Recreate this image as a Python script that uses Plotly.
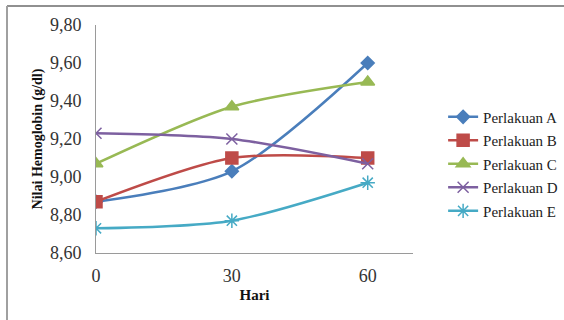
import plotly.graph_objects as go

# Hari pengamatan
hari = [0, 30, 60]

# Nilai hemoglobin (g/dl) per perlakuan
perlakuan_a = [8.87, 9.03, 9.60]
perlakuan_b = [8.87, 9.10, 9.10]
perlakuan_c = [9.07, 9.37, 9.50]
perlakuan_d = [9.23, 9.20, 9.07]
perlakuan_e = [8.73, 8.77, 8.97]

nama_seri = ["Perlakuan A", "Perlakuan B", "Perlakuan C", "Perlakuan D", "Perlakuan E"]
nilai_seri = [perlakuan_a, perlakuan_b, perlakuan_c, perlakuan_d, perlakuan_e]

y_ticks = [8.60, 8.80, 9.00, 9.20, 9.40, 9.60, 9.80]
x_ticks = [0, 30, 60]

warna = ["#4a7ebb", "#be4b48", "#98b954", "#7d60a0", "#46aac5"]
simbol = ["diamond", "square", "triangle-up", "x-thin-open", "asterisk-open"]
ukuran = [10, 12, 12, 11, 12]

fig = go.Figure()
for i, (nama, nilai) in enumerate(zip(nama_seri, nilai_seri)):
    fig.add_trace(go.Scatter(
        x=hari, y=nilai, name=nama, mode="lines+markers",
        line=dict(color=warna[i], width=2.5, shape="spline", smoothing=0.8),
        marker=dict(symbol=simbol[i], size=ukuran[i], color=warna[i],
                    line=dict(color=warna[i], width=1.5)),
        legendgroup=nama,
    ))

serif = "Liberation Serif"

fig.update_layout(
    width=564, height=320,
    margin=dict(l=96, r=151, t=25, b=67, autoexpand=False),
    paper_bgcolor="white", plot_bgcolor="white",
    separators=",.",
    showlegend=True,
    font=dict(family=serif, color="#222222"),
    legend=dict(
        x=1.095, xanchor="left", y=0.39, yanchor="middle",
        font=dict(family=serif, size=15, color="#222222"),
        tracegroupgap=1, bgcolor="rgba(0,0,0,0)",
    ),
    xaxis=dict(
        range=[0, 70], tickvals=x_ticks, ticktext=[str(v) for v in x_ticks],
        showgrid=False, zeroline=False, showline=True, linecolor="#9a9a9a",
        linewidth=1, ticks="", ticklabelstandoff=6,
        tickfont=dict(family=serif, size=18, color="#333333"),
        title=dict(text="<b>Hari</b>", font=dict(family=serif, size=15, color="#111111"),
                   standoff=4),
    ),
    yaxis=dict(
        range=[8.60, 9.80], tickvals=y_ticks, tickformat=".2f",
        showgrid=False, zeroline=False, showline=True, linecolor="#9a9a9a",
        linewidth=1, ticks="", ticklabelstandoff=10,
        tickfont=dict(family=serif, size=18, color="#333333"),
        title=dict(text="<b>Nilai Hemoglobin (g/dl)</b>",
                   font=dict(family=serif, size=14, color="#111111"), standoff=4),
    ),
    shapes=[
        dict(type="line", xref="paper", yref="paper",
             x0=-89 / 317, x1=470 / 317, y0=247 / 228, y1=247 / 228,
             line=dict(color="#909090", width=2)),
        dict(type="line", xref="paper", yref="paper",
             x0=-89 / 317, x1=-89 / 317, y0=247 / 228, y1=-70 / 228,
             line=dict(color="#a0a0a0", width=2)),
    ],
)

fig.write_html("out.html")
